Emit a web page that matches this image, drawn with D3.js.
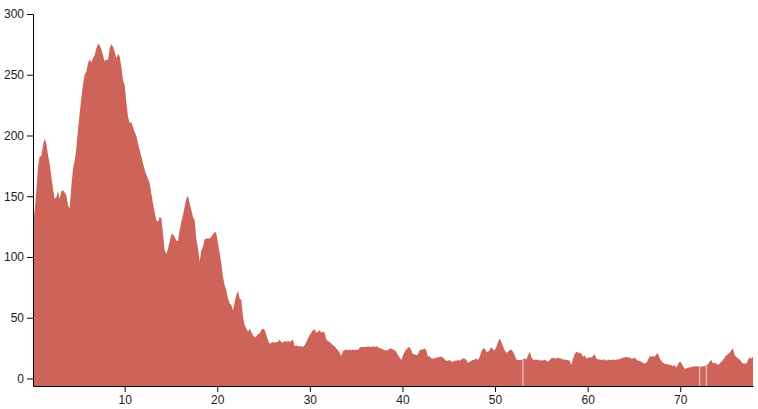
<!DOCTYPE html>
<html>
<head>
<meta charset="utf-8">
<script src="https://cdn.jsdelivr.net/npm/d3@7"></script>
<style>
  html, body { margin: 0; padding: 0; background: #fff; }
  svg { display: block; }
  .axis text { font-family: "Liberation Sans", Arial, sans-serif; font-size: 12px; fill: #222; }
  .axis path, .axis line { stroke: #000; }
</style>
</head>
<body>
<svg id="chart" width="758" height="409"></svg>
<script>
// sampling of the series (x start and regular step)
const xStart = 0.1;
const xStep = 0.18;

// series values (null = missing sample)
const values = [
  125, 138, 155, 174, 183, 183, 192, 197.6, 193.5, 184,
  177, 166, 156.5, 148, 149, 154, 148, 154, 155, 153,
  151, 142.7, 140, 158, 173, 179, 190, 205, 218, 231,
  242, 250, 252.5, 259.4, 262.7, 260, 263.5, 266, 271.8, 275.3,
  274.5, 271, 266, 260.8, 262.7, 262, 271.8, 275, 273, 269,
  263.5, 267, 265, 256.6, 245.7, 241.5, 227.8, 215.4, 210.5, 211,
  207, 203, 199.5, 193.5, 188, 182.5, 177, 172, 167.4, 164.7,
  160.6, 152.3, 144, 137, 130.4, 129, 133, 132, 119.4, 105.7,
  102.4, 107, 112.5, 118.8, 118.8, 116.6, 113.3, 113.3, 122, 129,
  134.5, 141.3, 148, 150.4, 144, 138.6, 133, 130.4, 115.3, 107,
  96, 105.7, 108.4, 114.5, 115.3, 115.3, 115.3, 116.6, 118.8, 120.7,
  119.4, 111.2, 103, 94.7, 83.7, 76.8, 72.7, 65.9, 61.8, 60.4,
  56.2, 63, 68.6, 72.1, 65.9, 64.5, 50.7, 43.9, 41.2, 38.4,
  41.2, 38.4, 35.7, 33.8, 34.6, 36.5, 37, 39.8, 41.2,
  39.8, 35.7, 31.5, 28.5, 29.3, 30.1, 29.3, 30.1, 30.1, 32.1,
  30.1, 29.3, 31, 30.1, 31, 30.1, 31, 32.1, 26.6, 27.4,
  26.6, 26.6, 26.6, 26, 27.4, 30.1, 32.9, 35.7, 37.6, 39.8,
  40.3, 37.6, 38.4, 39.8, 37.6, 38.4, 37.6, 32.1, 30.8, 30.1,
  28.8, 27.4, 26.6, 24.7, 23.3, 21.1, 18.4, 22.7, 23.3, 23.8,
  23.3, 23.8, 23.3, 23.8, 23.3, 23.8, 23.3, 25.5, 26, 26,
  26, 26, 26.6, 26, 26, 26.6, 26, 26.6, 26, 24.7,
  24.7, 23.8, 23.3, 23.3, 23.3, 24.7, 24.7, 23.8, 23.3, 21.9,
  19.2, 17.3, 15.1, 19.2, 21.9, 23.8, 25.5, 26, 23.3, 20,
  20, 19.2, 20, 23.3, 23.8, 23.8, 24.7, 23.3, 17.8, 18.4,
  16.5, 16.5, 16.5, 17.3, 17.3, 17.8, 17.8, 17.3, 15.6, 14.5,
  14.5, 15.1, 13.7, 13.7, 14.5, 14.5, 15.1, 14.5, 15.6, 16.5,
  16.5, 15.1, 12.9, 13.7, 14.5, 15.1, 15.6, 16.5, 15.1, 17.8,
  21.9, 24.7, 24.7, 21.9, 21.9, 23.3, 26, 23.8, 23.3, 26,
  30.1, 32.9, 30.1, 26.6, 23.3, 21.1, 21.9, 23.3, 23.8, 21.9,
  19.2, 15.6, 15.1, 15.1, 15.1, null, 16.5, 15.6, 19.2, 21.9,
  17.8, 15.1, 15.6, 15.1, 15.6, 14.5, 15.1, 14.5, 15.6, 14.5,
  13.7, 15.1, 16.5, 17.3, 16.5, 16.5, 17.3, 16.5, 16.5, 15.6,
  15.6, 15.1, 15.1, 14.5, 11, 16.5, 20, 21.9, 21.1, 21.1,
  20.6, 17.8, 19.2, 16.5, 17.3, 17.3, 17.3, 18.4, 20, 16.5,
  15.6, 15.6, 15.1, 15.6, 15.6, 14.5, 15.6, 15.1, 15.1, 15.6,
  15.1, 15.6, 15.6, 16, 16.5, 17.3, 17.3, 17.8, 17.3, 17.3,
  16.5, 16.5, 17.3, 15.6, 14.5, 14.5, 13.7, 12.9, 12.3, 12.9,
  15.1, 18.4, 17.8, 18.4, 17.8, 20, 20.6, 16.5, 14.5, 12.9,
  12.3, 11.8, 11.8, 11, 11, 10.1, 11, 9, 11.8, 13.7,
  12.9, 10.1, 8.2, 8.2, 9, 9, 9.6, 9.6, 10.1, 10.1,
  10.1, null, 9.6, 10.1, 10.1, null, 11.8, 13.7, 15.1, 12.3,
  12.9, 12.3, 11, 12.3, 13.7, 15.1, 17.3, 19.2, 20, 21.1,
  23.3, 24.7, 19.2, 17.8, 16.5, 15.6, 13.7, 12.3, 12.3, 12.3,
  15.1, 17.3, 16.5, 17.8
];

// axis
const yTicks = [0, 50, 100, 150, 200, 250, 300];
const xTicks = [10, 20, 30, 40, 50, 60, 70];
const yMin = -6.2, yMax = 300;

const points = values.map((v, i) => ({ x: xStart + i * xStep, v }));
const present = points.filter(d => d.v != null);
const missing = points
  .map((d, i) => ({ d, i }))
  .filter(o => o.d.v == null)
  .map(o => {
    const prev = points[o.i - 1], next = points[o.i + 1];
    return { x: o.d.x, v: (prev.v + next.v) / 2 };
  });

const svg = d3.select("#chart");
const mLeft = 33, mRight = 753, mTop = 14, mBottom = 386;

const x = d3.scaleLinear()
  .domain(d3.extent(points, d => d.x))
  .range([mLeft, mRight]);
const y = d3.scaleLinear()
  .domain([yMin, yMax])
  .range([mBottom, mTop]);

const area = d3.area()
  .x(d => x(d.x))
  .y0(y(yMin))
  .y1(d => y(d.v));

svg.append("path")
  .datum(present)
  .attr("fill", "#ce6459")
  .attr("d", area);

svg.append("g")
  .selectAll("line")
  .data(missing)
  .join("line")
  .attr("x1", d => x(d.x))
  .attr("x2", d => x(d.x))
  .attr("y1", d => y(d.v))
  .attr("y2", y(yMin))
  .attr("stroke", "#f3d6d3")
  .attr("stroke-width", 1);

svg.append("g")
  .attr("class", "axis")
  .attr("transform", `translate(0,${mBottom})`)
  .call(d3.axisBottom(x).tickValues(xTicks).tickSizeOuter(0));

svg.append("g")
  .attr("class", "axis")
  .attr("transform", `translate(${mLeft},0)`)
  .call(d3.axisLeft(y).tickValues(yTicks).tickSizeOuter(0));
</script>
</body>
</html>
